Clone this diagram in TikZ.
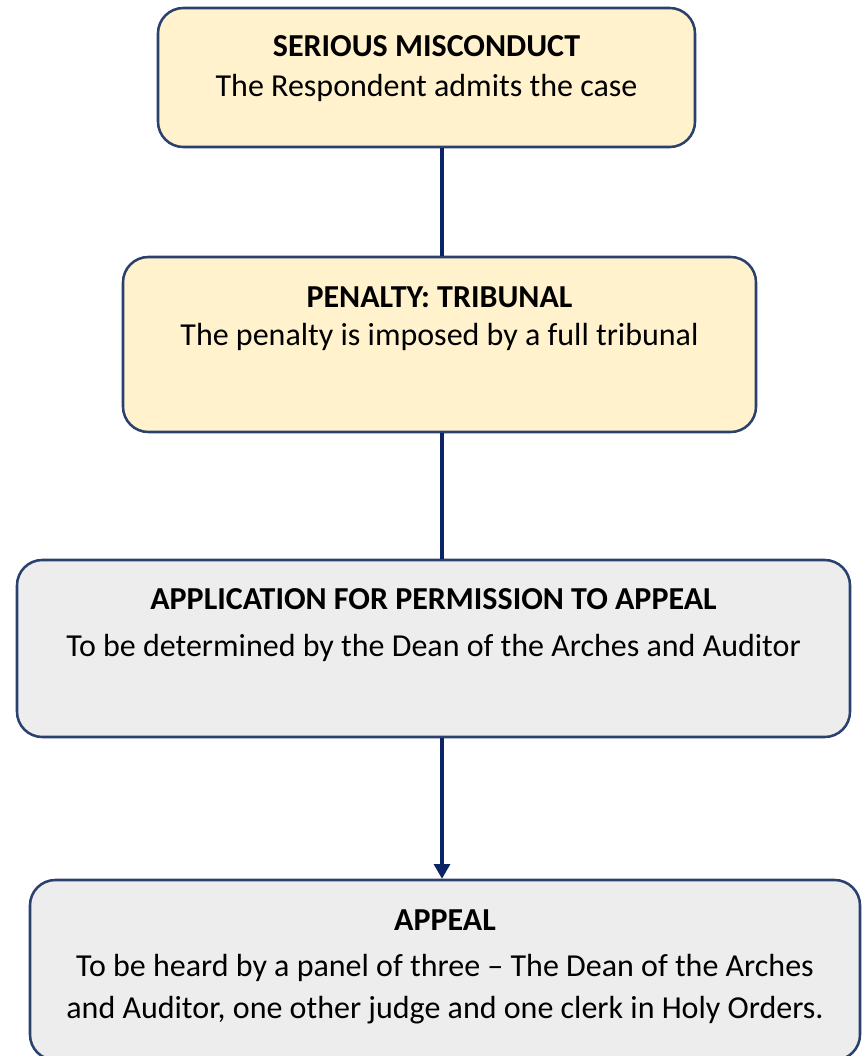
\documentclass[tikz,border=0pt]{standalone}
\usepackage{fontspec}
\setmainfont{Carlito}
\usepackage{xcolor}
\usetikzlibrary{arrows.meta}

\definecolor{boxline}{HTML}{2A406F}
\definecolor{linknavy}{HTML}{0B2466}
\definecolor{caseyellow}{HTML}{FFF2CC}
\definecolor{appealgrey}{HTML}{EDEDED}

\tikzset{
  stagebox/.style={draw=boxline, line width=1.9pt, rounded corners=19pt, inner sep=0pt},
  penaltybox/.style={stagebox, fill=caseyellow},
  appealbox/.style={stagebox, fill=appealgrey},
  boxtext/.style={anchor=base, inner sep=0pt, font=\fontsize{24}{31.5}\selectfont, align=center},
  boxtitle/.style={boxtext, font=\fontsize{24}{31.5}\selectfont\bfseries},
  link/.style={draw=linknavy, line width=2.3pt},
}

\begin{document}
\begin{tikzpicture}[x=0.75pt,y=-0.75pt]
    % page size of the reference, in px
    \useasboundingbox (0,0) rectangle (861,1056);
    % the spine that carries the connectors
    \coordinate (spine) at (442,0);

    \node [penaltybox, minimum width=537*0.75pt, minimum height=139*0.75pt] (misconduct) at (426.5,77.5) {};
    \node [penaltybox, minimum width=633*0.75pt, minimum height=175*0.75pt] (penalty) at (439.5,344.5) {};
    \node [appealbox, minimum width=833*0.75pt, minimum height=177*0.75pt] (permission) at (433.5,648.5) {};
    \node [appealbox, minimum width=830*0.75pt, minimum height=180*0.75pt] (appeal) at (445,970) {};

    % texts, by baseline below the top of each box
    \node [boxtitle] (misconduct title) at ([yshift=-49.5*0.75pt]misconduct.north) {SERIOUS MISCONDUCT};
    \node [boxtext] (misconduct body) at ([yshift=-90*0.75pt]misconduct.north) {The Respondent admits the case};
    \node [boxtitle] (penalty title) at ([yshift=-51.5*0.75pt]penalty.north) {PENALTY: TRIBUNAL};
    \node [boxtext] (penalty body) at ([yshift=-90*0.75pt]penalty.north) {The penalty is imposed by a full tribunal};
    \node [boxtitle] (permission title) at ([yshift=-51*0.75pt]permission.north) {APPLICATION FOR PERMISSION TO APPEAL};
    \node [boxtext] (permission body) at ([yshift=-98*0.75pt]permission.north) {To be determined by the Dean of the Arches and Auditor};
    \node [boxtitle] (appeal title) at ([yshift=-51.5*0.75pt]appeal.north) {APPEAL};
    % base of a two-line node sits on its last line
    \node [boxtext] (appeal body) at ([yshift=-140*0.75pt]appeal.north) {To be heard by a panel of three -- The Dean of the Arches\\and Auditor, one other judge and one clerk in Holy Orders.};

    \draw [link] (misconduct.south -| spine) -- (penalty.north -| spine);
    \draw [link] (penalty.south -| spine) -- (permission.north -| spine);
    \draw [link, -{Triangle[width=12pt, length=11pt]}] (permission.south -| spine) -- (appeal.north -| spine);
\end{tikzpicture}
\end{document}
